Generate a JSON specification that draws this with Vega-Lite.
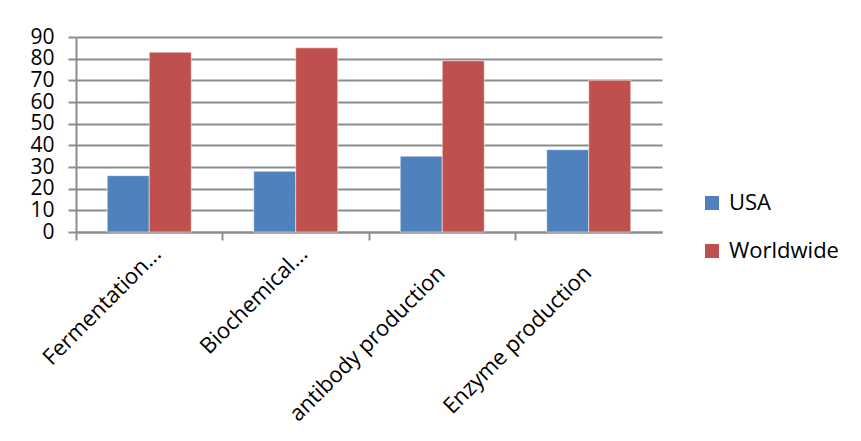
{
  "$schema": "https://vega.github.io/schema/vega-lite/v6.json",
  "width": 586,
  "height": 195,
  "autosize": "none",
  "padding": {"left": 76, "top": 37, "right": 199, "bottom": 209},
  "background": "white",
  "config": {
    "view": {"stroke": null},
    "font": "Open Sans"
  },
  "data": {
    "values": [
      {"category": "Fermentation...", "series": "USA", "value": 26},
      {"category": "Fermentation...", "series": "Worldwide", "value": 83},
      {"category": "Biochemical...", "series": "USA", "value": 28},
      {"category": "Biochemical...", "series": "Worldwide", "value": 85},
      {"category": "antibody production", "series": "USA", "value": 35},
      {"category": "antibody production", "series": "Worldwide", "value": 79},
      {"category": "Enzyme production", "series": "USA", "value": 38},
      {"category": "Enzyme production", "series": "Worldwide", "value": 70}
    ]
  },
  "mark": {"type": "bar", "stroke": "#ffffff", "strokeOpacity": 0.5, "strokeWidth": 1},
  "encoding": {
    "x": {
      "field": "category",
      "type": "nominal",
      "sort": null,
      "scale": {"paddingInner": 0, "paddingOuter": 0},
      "axis": {
        "title": null,
        "labelAngle": -45,
        "labelAlign": "right",
        "labelBaseline": "top",
        "labelFont": "Open Sans",
        "labelFontSize": 22,
        "labelColor": "#000000",
        "labelPadding": {"condition": {"test": "length(datum.label) > 16", "value": 22}, "value": 3},
        "labelOffset": {"condition": {"test": "length(datum.label) > 16", "value": -8}, "value": 1},
        "labelLimit": 400,
        "bandPosition": 0,
        "domainColor": "#8c8c8c",
        "domainWidth": 2,
        "tickColor": "#8c8c8c",
        "tickWidth": 2,
        "tickSize": 8,
        "grid": false
      }
    },
    "xOffset": {
      "field": "series",
      "type": "nominal",
      "scale": {"paddingInner": 0, "paddingOuter": 0.744}
    },
    "y": {
      "field": "value",
      "type": "quantitative",
      "scale": {"domain": [0, 90], "nice": false},
      "axis": {
        "title": null,
        "values": [0, 10, 20, 30, 40, 50, 60, 70, 80, 90],
        "labelFont": "Open Sans",
        "labelFontSize": 21,
        "labelColor": "#000000",
        "labelPadding": 14,
        "domainColor": "#8c8c8c",
        "domainWidth": 2,
        "tickColor": "#8c8c8c",
        "tickWidth": 2,
        "tickSize": 8,
        "grid": true,
        "gridColor": "#8c8c8c",
        "gridWidth": 2
      }
    },
    "color": {
      "field": "series",
      "type": "nominal",
      "scale": {"domain": ["USA", "Worldwide"], "range": ["#4F81BD", "#C0504D"]},
      "legend": {
        "title": null,
        "orient": "none",
        "legendX": 625,
        "legendY": 155,
        "symbolType": "square",
        "symbolSize": 196,
        "symbolStrokeWidth": 0,
        "labelFont": "Open Sans",
        "labelFontSize": 22,
        "labelColor": "#000000",
        "labelOffset": 6,
        "rowPadding": 26
      }
    }
  }
}
